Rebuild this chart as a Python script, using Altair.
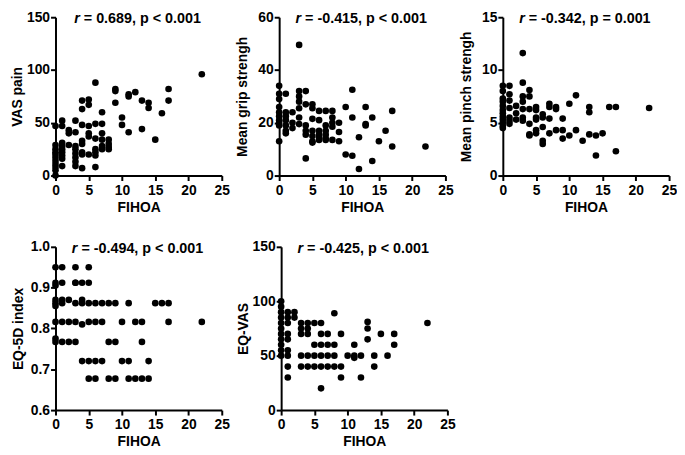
import altair as alt
import pandas as pd

FONT = "Liberation Sans"

# ---------------- data ----------------
# Panel 1: VAS pain vs FIHOA
pain_fihoa = [0, 0, 0, 0, 0, 0, 0, 0, 0, 0, 0,
              1, 1, 1, 1, 1, 1, 1, 1, 1,
              2, 2, 2,
              3, 3, 3, 3, 3, 3, 3, 3,
              4, 4, 4, 4, 4, 4, 4, 4,
              5, 5, 5, 5, 5, 5,
              6, 6, 6, 6, 6, 6, 6,
              7, 7, 7, 7, 7, 7,
              8, 8, 8, 8,
              9, 9, 9,
              10, 10,
              11, 11, 11,
              12,
              13, 13,
              14, 14,
              15,
              16,
              17, 17,
              22]
pain_vas = [47, 29, 25, 22, 20, 17, 14, 11, 8, 5, 0,
            52, 47, 31, 28, 25, 22, 19, 16, 9,
            43, 40, 29,
            52, 41, 28, 25, 21, 17, 13, 9,
            71, 63, 48, 33, 30, 22, 20, 7,
            72, 67, 47, 40, 37, 20,
            88, 49, 35, 25, 22, 19, 8,
            60, 49, 40, 34, 28, 25,
            34, 30, 27, 25,
            82, 80, 69,
            55, 48,
            77, 75, 41,
            79,
            71, 44,
            69, 64,
            34,
            59,
            82, 71,
            96]

# Panel 2: Mean grip strength vs FIHOA
grip_fihoa = [0, 0, 0, 0, 0, 0, 0, 0, 0, 0,
              1, 1, 1, 1, 1, 1, 1,
              2, 2, 2,
              3, 3, 3, 3, 3, 3, 3,
              4, 4, 4, 4, 4, 4,
              5, 5, 5, 5, 5, 5, 5,
              6, 6, 6, 6, 6, 6,
              7, 7, 7, 7, 7, 7,
              8, 8, 8, 8, 8,
              9, 9, 9,
              10, 10,
              11, 11, 11,
              12, 12,
              13, 13, 13,
              14, 14,
              15,
              16,
              17, 17,
              22]
grip_val = [34, 31, 29, 26, 24, 22.5, 21, 20, 19, 13,
            31, 24, 22.5, 21, 19, 17, 16,
            24, 20, 18,
            49.5, 32, 30, 28, 25.5, 22, 19.5,
            32, 27, 19, 17, 15.5, 6.5,
            27, 25.5, 21.5, 17, 15, 13, 12.5,
            24.5, 21, 17, 15.5, 14.5, 13.5,
            24.5, 19, 17, 15.5, 14, 13.5,
            24.5, 22, 20, 18.5, 13.5,
            20, 16.5, 13,
            26, 8,
            32.5, 22, 7.5,
            14.5, 2.5,
            26, 19.5, 19,
            22, 5.5,
            13,
            17,
            24.5, 11,
            11]

# Panel 3: Mean pinch strength vs FIHOA
pinch_fihoa = [0, 0, 0, 0, 0, 0, 0, 0, 0, 0, 0, 0,
               1, 1, 1, 1, 1, 1, 1,
               2, 2, 2,
               3, 3, 3, 3, 3, 3, 3,
               4, 4, 4, 4, 4, 4,
               5, 5, 5, 5, 5, 5,
               6, 6, 6, 6, 6,
               7, 7, 7, 7,
               8, 8, 8,
               9, 9, 9,
               10, 10,
               11, 11,
               12,
               13, 13, 13,
               14, 14,
               15,
               16,
               17, 17,
               22]
pinch_val = [8.5, 8.0, 7.3, 7.0, 6.6, 6.2, 5.9, 5.6, 5.3, 5.0, 4.7, 4.5,
             8.5, 7.7, 7.1, 6.4, 5.5, 5.2, 4.9,
             6.6, 5.9, 5.3,
             11.6, 8.8, 7.5, 7.0, 6.3, 5.5, 5.2,
             8.1, 7.5, 6.3, 4.9, 3.9, 3.8,
             6.5, 6.2, 5.5, 5.3, 4.3, 4.0,
             5.8, 5.5, 4.6, 3.3, 3.0,
             6.8, 6.5, 5.4, 4.0,
             6.5, 6.3, 4.3,
             5.4, 4.3, 3.5,
             6.8, 3.8,
             7.6, 4.3,
             3.3,
             6.5, 6.0, 3.9,
             3.8, 1.9,
             4.0,
             6.5,
             6.5, 2.3,
             6.4]

# Panel 4: EQ-5D index vs FIHOA
eq5d_fihoa = [0, 1, 3, 5,
              0, 0, 1, 3, 3, 4, 5,
              0, 1, 2, 4,
              0, 1, 3, 4, 5, 6, 7, 8, 9, 11, 15, 16, 17,
              0,
              0, 1, 2, 3, 5, 6, 7, 10, 12, 13, 17, 22, 4,
              0,
              0, 1, 2, 3, 8, 9, 13,
              4, 5, 6, 7, 10, 11, 14,
              5, 6, 8, 9, 11, 12, 13, 14]
eq5d_val = [0.950, 0.950, 0.950, 0.950,
            0.912, 0.905, 0.912, 0.912, 0.912, 0.912, 0.912,
            0.870, 0.870, 0.870, 0.870,
            0.862, 0.862, 0.862, 0.862, 0.862, 0.862, 0.862, 0.862, 0.862,
            0.862, 0.862, 0.862, 0.862,
            0.855,
            0.816, 0.816, 0.816, 0.816, 0.816, 0.816, 0.816, 0.816, 0.816,
            0.816, 0.816, 0.816, 0.810,
            0.775,
            0.767, 0.767, 0.767, 0.767, 0.767, 0.767, 0.767,
            0.720, 0.720, 0.720, 0.720, 0.720, 0.720, 0.720,
            0.677, 0.677, 0.677, 0.677, 0.677, 0.677, 0.677, 0.677]

# Panel 5: EQ-VAS vs FIHOA
eqvas_fihoa = [0, 0, 0, 0, 0, 0, 0, 0, 0, 0, 0,
               1, 1, 1, 1, 1, 1, 1, 1, 1,
               2, 2,
               3, 3, 3, 3, 3,
               4, 4, 4, 4, 4,
               5, 5, 5, 5,
               6, 6, 6, 6, 6, 6,
               7, 7, 7, 7,
               8, 8, 8, 8,
               9, 9, 9,
               10,
               11, 11, 11,
               12, 12,
               13, 13, 13,
               14, 14,
               15,
               16,
               17, 17,
               22]
eqvas_val = [100, 95, 90, 85, 80, 75, 70, 65, 60, 55, 50,
             90, 85, 80, 70, 65, 55, 50, 40, 30,
             90, 85,
             80, 75, 70, 50, 40,
             80, 75, 70, 50, 40,
             80, 60, 50, 40,
             80, 70, 60, 50, 40, 20,
             70, 60, 50, 40,
             89, 60, 50, 40,
             70, 40, 30,
             50,
             60, 50, 48,
             50, 30,
             81, 75, 65,
             50, 40,
             70,
             50,
             70, 60,
             80]

x_ticks = [0, 5, 10, 15, 20, 25]
y_titles = ["VAS pain", "Mean grip strengh", "Mean pinch strengh", "EQ-5D index", "EQ-VAS"]
r_texts = ["0.689", "-0.415", "-0.342", "-0.494", "-0.425"]
p_texts = ["p < 0.001", "p < 0.001", "p = 0.001", "p < 0.001", "p < 0.001"]

# ---------------- layout ----------------
W = 168
H1 = 160
H2 = 165
TITLE_SIZE = 14.5

_w = {" ": 278, "=": 584, ".": 278, ",": 278, "p": 611, "<": 584, "-": 333, "r": 389}


def text_w(s):
    return sum(_w.get(c, 556) for c in s) * TITLE_SIZE / 1000.0


def panel(xs, ys, ytitle, domain, ticks, fmt, rtxt, ptxt, height):
    df = pd.DataFrame({"FIHOA": xs, "val": ys})
    pts = alt.Chart(df).mark_circle(size=45, color="black", opacity=1).encode(
        x=alt.X("FIHOA:Q",
                scale=alt.Scale(domain=[0, 25], nice=False),
                axis=alt.Axis(values=x_ticks, title="FIHOA", labelFlush=False)),
        y=alt.Y("val:Q",
                scale=alt.Scale(domain=domain, nice=False, zero=False),
                axis=alt.Axis(values=ticks, title=ytitle, format=fmt)),
    )
    rest = "= " + rtxt + ", " + ptxt
    total = text_w("r " + rest)
    left = W / 2 - 1 - total / 2
    r_x = left + text_w("r")
    rest_x = left + text_w("r ")
    r_mark = alt.Chart(pd.DataFrame({"t": ["r"]})).mark_text(
        font=FONT, fontSize=TITLE_SIZE, fontWeight="bold", fontStyle="italic",
        align="right", baseline="alphabetic", color="black"
    ).encode(text="t:N", x=alt.value(r_x), y=alt.value(6))
    rest_mark = alt.Chart(pd.DataFrame({"t": [rest]})).mark_text(
        font=FONT, fontSize=TITLE_SIZE, fontWeight="bold",
        align="left", baseline="alphabetic", color="black"
    ).encode(text="t:N", x=alt.value(rest_x), y=alt.value(6))
    return alt.layer(pts, r_mark, rest_mark).properties(width=W, height=height)


p1 = panel(pain_fihoa, pain_vas, y_titles[0], [0, 150], [0, 50, 100, 150], "d", r_texts[0], p_texts[0], H1)
p2 = panel(grip_fihoa, grip_val, y_titles[1], [0, 60], [0, 20, 40, 60], "d", r_texts[1], p_texts[1], H1)
p3 = panel(pinch_fihoa, pinch_val, y_titles[2], [0, 15], [0, 5, 10, 15], "d", r_texts[2], p_texts[2], H1)
p4 = panel(eq5d_fihoa, eq5d_val, y_titles[3], [0.6, 1.0], [0.6, 0.7, 0.8, 0.9, 1.0], ".1f", r_texts[3], p_texts[3], H2)
p5 = panel(eqvas_fihoa, eqvas_val, y_titles[4], [0, 150], [0, 50, 100, 150], "d", r_texts[4], p_texts[4], H2)

row1 = alt.hconcat(p1, p2, p3, spacing=6)
row2 = alt.hconcat(p4, p5, spacing=6)

chart = alt.vconcat(row1, row2, spacing=26).properties(
    padding={"left": 2, "top": 0, "right": 0, "bottom": 0}
).configure_axis(
    grid=False,
    domainColor="black", domainWidth=2,
    tickColor="black", tickWidth=2, tickSize=5,
    labelFont=FONT, labelFontSize=14, labelFontWeight="bold", labelColor="black",
    titleFont=FONT, titleFontSize=14, titleFontWeight="bold", titleColor="black",
).configure_axisY(
    titlePadding=2, minExtent=28, labelPadding=1,
).configure_axisX(
    titlePadding=3, labelPadding=3,
).configure_view(stroke=None)

chart.save("out.html", embed_options={"renderer": "svg", "actions": False})
